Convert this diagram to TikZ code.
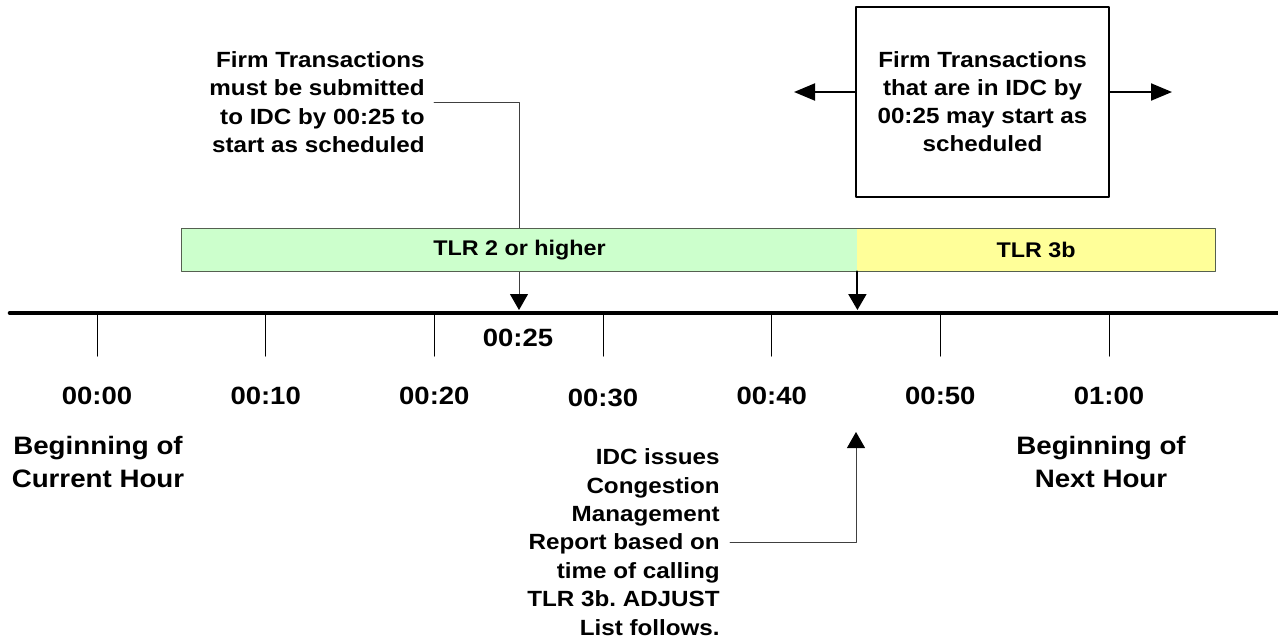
\documentclass[tikz,border=0pt]{standalone}
\usepackage{fontspec}
\setmainfont{Liberation Sans}[FakeStretch=1.1]
\usetikzlibrary{arrows.meta}
\definecolor{tlrgreen}{HTML}{CCFFCC}
\definecolor{tlryellow}{HTML}{FFFF99}
\definecolor{barborder}{HTML}{556050}

\begin{document}
\begin{tikzpicture}[x=0.5pt, y=-0.5pt, >={Triangle[length=8pt,width=9pt,color=black]},
	line cap=round, line join=round,
	note/.style={font=\fontsize{11}{14.2}\selectfont\bfseries, inner ysep=0pt, inner xsep=4.5pt},
	ticklabel/.style={font=\fontsize{12.5}{15}\selectfont\bfseries, inner sep=0pt, anchor=base},
	hourlabel/.style={font=\fontsize{12.6}{16.5}\selectfont\bfseries, inner sep=0pt, align=center},
	bar/.style={inner sep=0pt, minimum height=21pt, font=\fontsize{10.6}{12}\selectfont\bfseries},
	leader/.style={draw=black!75, line width=0.5pt}]
	\useasboundingbox (0,0) rectangle (1278,643);
	
	%========================
	% time axis
	%========================
	\draw[line width=2.3pt] (10,313) -- (1282,313);
	\foreach \lab/\ly [count=\i from 0] in {00:00/404,00:10/404,00:20/404,00:30/406,00:40/404,00:50/404,01:00/404}{
		\coordinate (t\i) at ({97+168.67*\i},313);
		\draw[line width=0.5pt] (t\i) -- ++(0,43);
		\node[ticklabel] (lab\i) at ({97+168.67*\i},\ly) {\lab};
	}
	% marks at 00:25 and 00:45
	\coordinate (m25) at (519,310);
	\coordinate (m45) at (857,310);
	\coordinate (u45) at (856,432);
	\node[ticklabel] (lab25) at (518,346) {00:25};
	
	% hour labels
	\node[hourlabel] (curhour) at (98,462) {Beginning of\\Current Hour};
	\node[hourlabel] (nexthour) at (1101,462) {Beginning of\\Next Hour};
	
	%========================
	% notes and TLR bars
	%========================
	\node[note, align=right, anchor=east] (submit) at (434,102)
	{Firm Transactions\\must be submitted\\to IDC by 00:25 to\\start as scheduled};
	\draw[leader, ->] (submit.east) -| (m25);
	
	\node[bar, fill=tlrgreen, minimum width=337.5pt] (tlr2) at (519.5,250) {TLR 2 or higher};
	\node[bar, fill=tlryellow, minimum width=179pt] (tlr3b) at (1036,250) {TLR 3b};
	\draw[barborder, line width=0.6pt] (tlr2.north west) rectangle (tlr3b.south east);
	\draw[->, line width=1pt] (tlr2.south east) -- (tlr2.south east |- m45);
	
	% box with arrows both ways
	\node[note, draw, line width=0.7pt, align=center, font=\fontsize{11}{14}\selectfont\bfseries,
	minimum width=126.5pt, minimum height=95pt] (idcbox) at (982.5,102)
	{Firm Transactions\\that are in IDC by\\00:25 may start as\\scheduled};
	\coordinate (leftend) at (794,92);
	\coordinate (rightend) at (1172,92);
	\draw[->, line width=1pt, >={Triangle[length=10.5pt,width=8.5pt]}] (idcbox.west |- leftend) -- (leftend);
	\draw[->, line width=1pt, >={Triangle[length=10.5pt,width=8.5pt]}] (idcbox.east |- rightend) -- (rightend);
	
	% report note below the axis
	\node[note, align=right, anchor=east, inner xsep=5pt] (report) at (730,542)
	{IDC issues\\Congestion\\Management\\Report based on\\time of calling\\TLR 3b.\ ADJUST\\List follows.};
	\draw[leader, ->] (report.east) -| (u45);
	
\end{tikzpicture}
\end{document}
